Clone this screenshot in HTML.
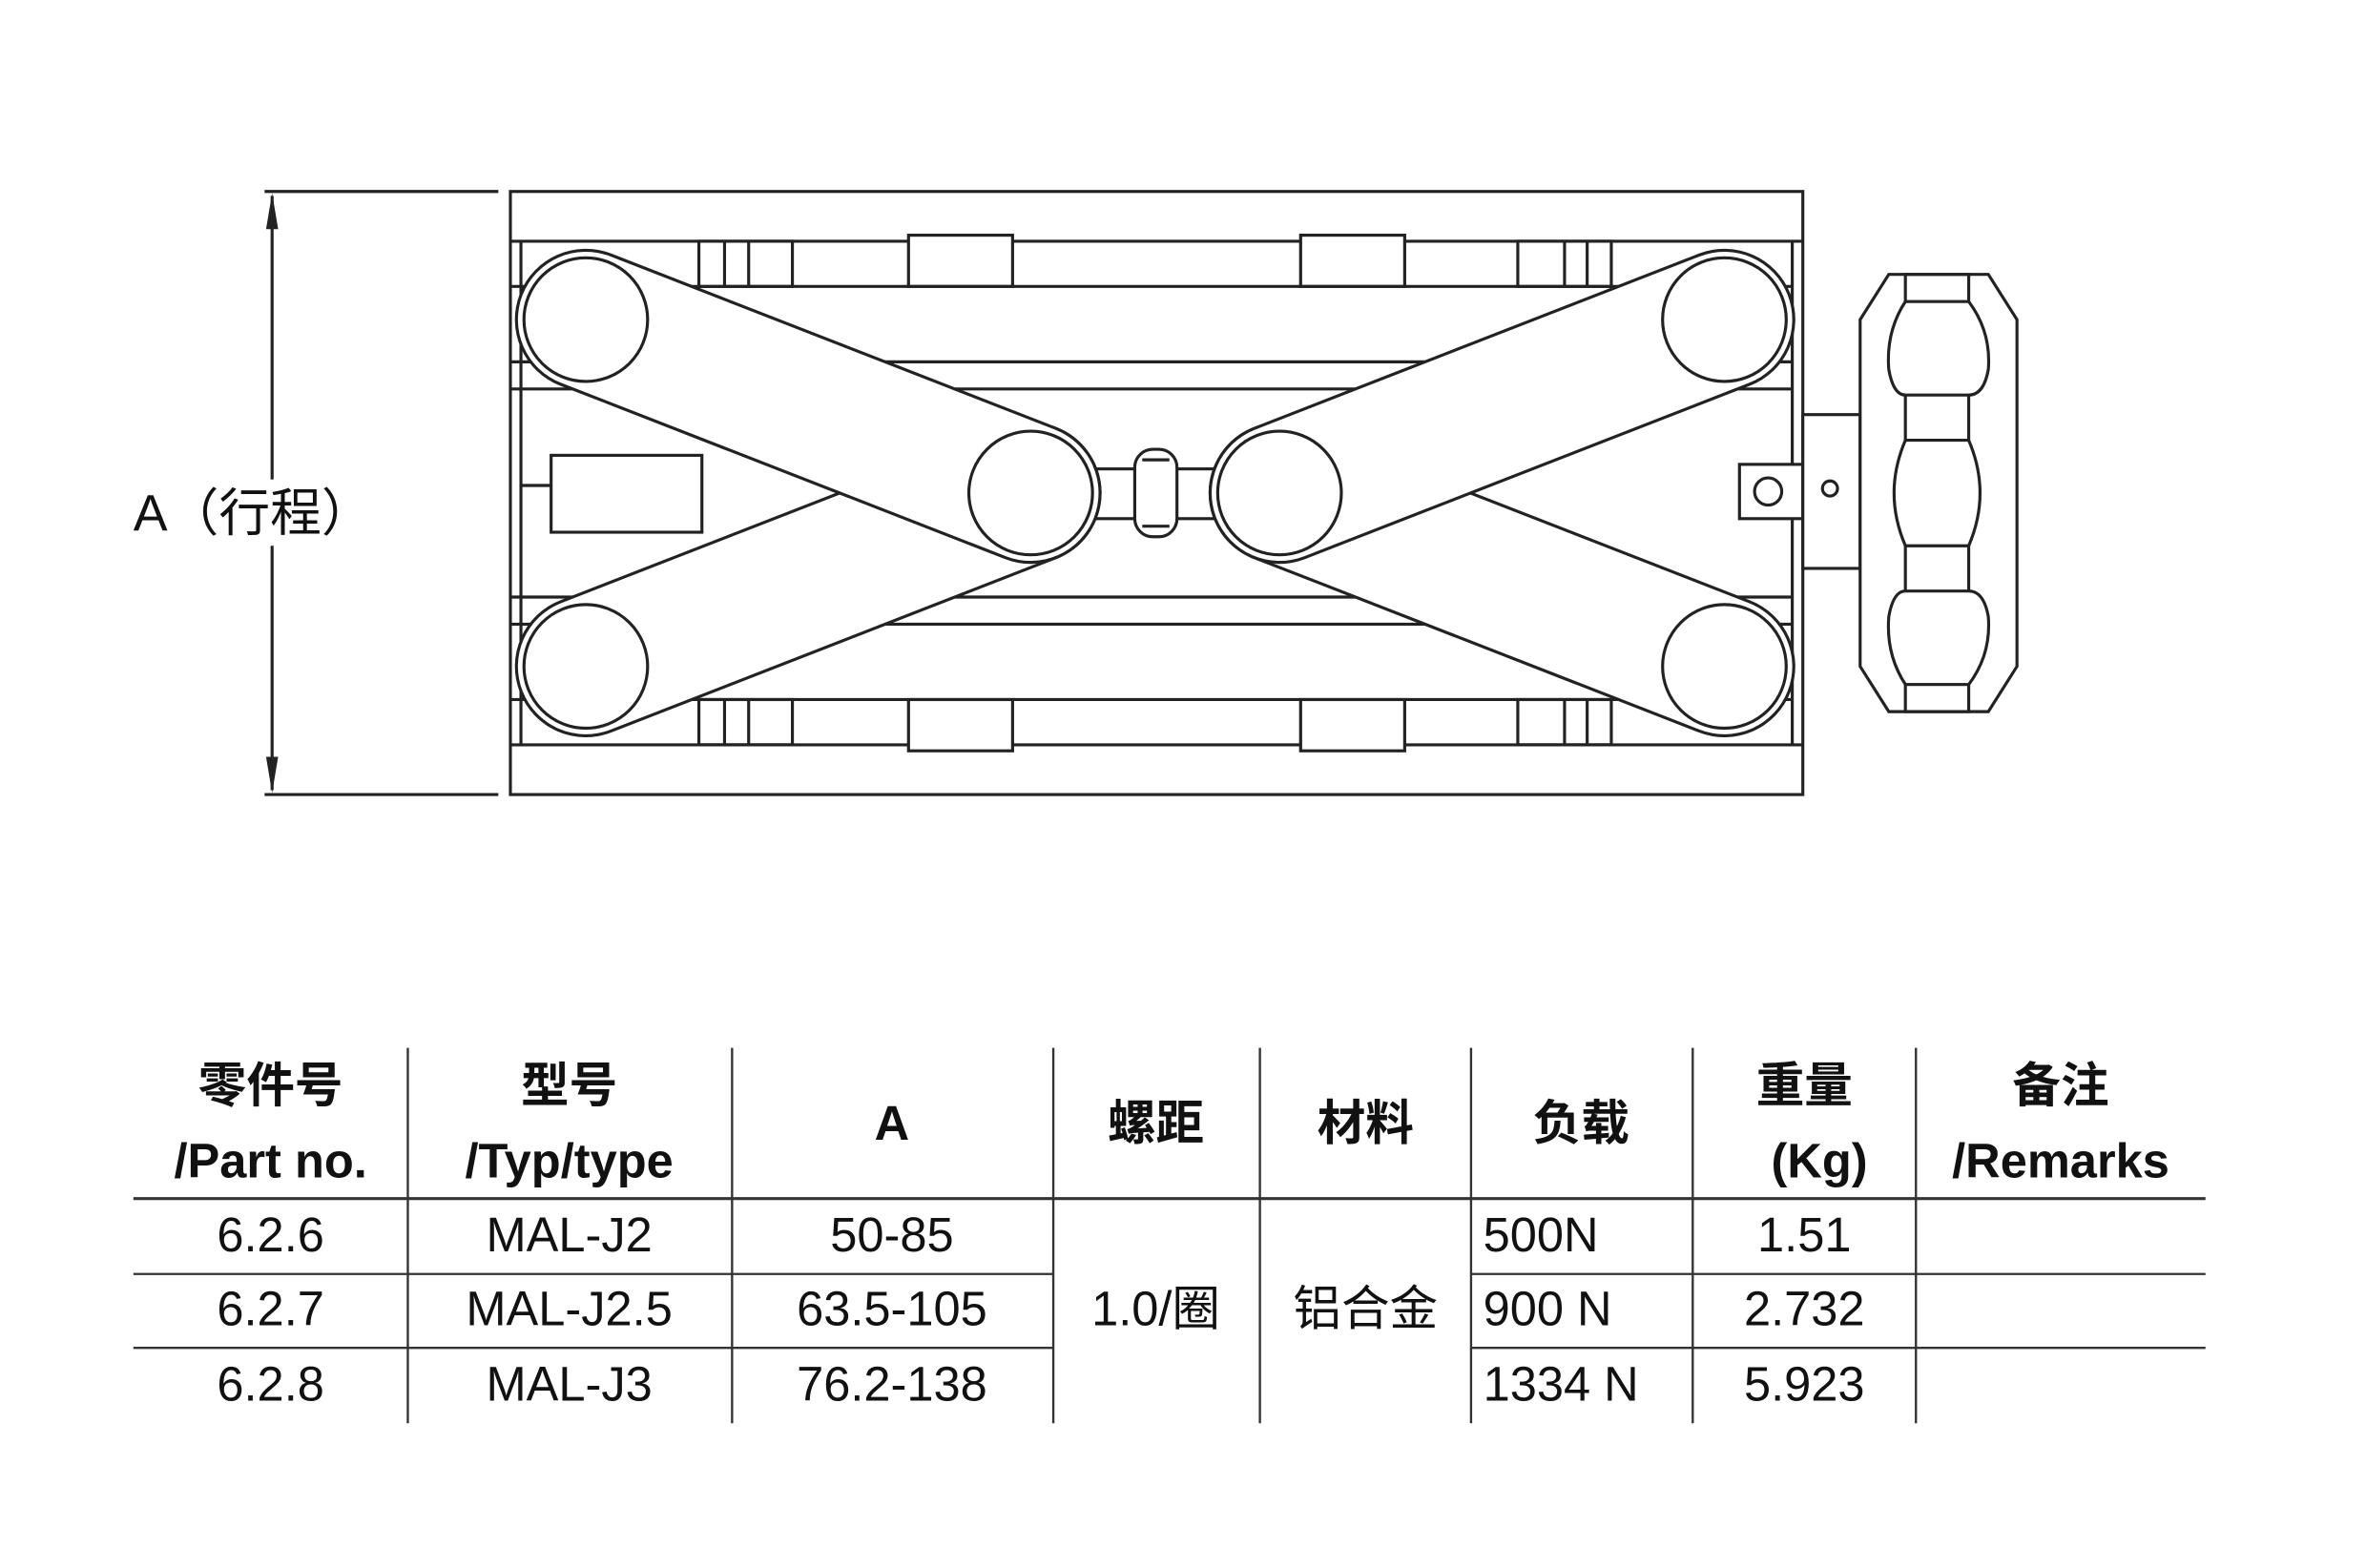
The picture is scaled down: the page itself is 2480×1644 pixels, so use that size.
<!DOCTYPE html>
<html><head><meta charset="utf-8"><style>
html,body{margin:0;padding:0;background:#fff;}
svg{display:block;}
text{font-family:"Liberation Sans","Noto Sans CJK SC",sans-serif;fill:#111;}
</style></head><body>
<svg width="2480" height="1644" viewBox="0 0 1568 1040" xmlns="http://www.w3.org/2000/svg">
<g fill="none" stroke="#222" stroke-width="2">
<!-- frame -->
<rect x="338" y="127" width="857" height="400" fill="#fff"/>
<line x1="338" y1="160" x2="1195" y2="160"/>
<line x1="338" y1="494" x2="1195" y2="494"/>
<!-- top blocks -->
<rect x="602" y="156" width="69" height="34" fill="#fff"/>
<rect x="862" y="156" width="69" height="34" fill="#fff"/>
<rect x="602" y="464" width="69" height="34" fill="#fff"/>
<rect x="862" y="464" width="69" height="34" fill="#fff"/>
<rect x="463" y="160" width="62" height="30"/><line x1="480" y1="160" x2="480" y2="190"/><line x1="496" y1="160" x2="496" y2="190"/>
<rect x="1006" y="160" width="62" height="30"/><line x1="1037" y1="160" x2="1037" y2="190"/><line x1="1052" y1="160" x2="1052" y2="190"/>
<rect x="463" y="464" width="62" height="30"/><line x1="480" y1="464" x2="480" y2="494"/><line x1="496" y1="464" x2="496" y2="494"/>
<rect x="1006" y="464" width="62" height="30"/><line x1="1037" y1="464" x2="1037" y2="494"/><line x1="1052" y1="464" x2="1052" y2="494"/>
<!-- rails -->
<line x1="338" y1="190" x2="1188" y2="190"/>
<line x1="338" y1="464" x2="1188" y2="464"/>
<line x1="345" y1="160" x2="345" y2="494"/>
<line x1="1188" y1="160" x2="1188" y2="494"/>
<line x1="338" y1="240" x2="1188" y2="240"/>
<line x1="338" y1="258" x2="1188" y2="258"/>
<line x1="338" y1="396" x2="1188" y2="396"/>
<line x1="338" y1="414" x2="1188" y2="414"/>
<!-- left rod -->
<rect x="365" y="302" width="100" height="51" fill="#fff"/>
<line x1="345" y1="322" x2="365" y2="322"/>
<!-- center connector -->
<rect x="720" y="311" width="100" height="33" fill="#fff"/>
<rect x="752" y="298" width="28" height="58" rx="12" fill="#fff"/>
<line x1="757" y1="305" x2="775" y2="305"/><line x1="757" y1="349" x2="775" y2="349"/>
<!-- right square + stem -->
<rect x="1153" y="308" width="42" height="36" fill="#fff"/>
<circle cx="1172" cy="326" r="9"/>
<rect x="1195" y="275" width="38" height="102" fill="#fff"/>
<circle cx="1213" cy="324" r="5"/>
<!-- knob -->
<path d="M1252,182 L1318,182 L1337,212 L1337,442 L1318,472 L1252,472 L1233,442 L1233,212 Z" fill="#fff"/>
<rect x="1263" y="182" width="42" height="18"/>
<rect x="1263" y="454" width="42" height="18"/>
<path d="M1263,200 Q1250,220 1252,245 Q1255,262 1263,262 L1305,262 Q1315,262 1318,245 Q1320,220 1305,200"/>
<path d="M1263,454 Q1250,434 1252,409 Q1255,392 1263,392 L1305,392 Q1315,392 1318,409 Q1320,434 1305,454"/>
<line x1="1263" y1="262" x2="1263" y2="292"/><line x1="1305" y1="262" x2="1305" y2="292"/>
<line x1="1263" y1="362" x2="1263" y2="392"/><line x1="1305" y1="362" x2="1305" y2="392"/>
<path d="M1263,292 Q1248,327 1263,362 L1305,362 Q1320,327 1305,292 Z"/>
</g>
<!-- links: outline capsules -->
<g stroke-linecap="round" fill="none">
<line x1="388" y1="442" x2="683" y2="327" stroke="#222" stroke-width="94"/>
<line x1="388" y1="442" x2="683" y2="327" stroke="#fff" stroke-width="90"/>
<line x1="388" y1="212" x2="683" y2="327" stroke="#222" stroke-width="94"/>
<line x1="388" y1="212" x2="683" y2="327" stroke="#fff" stroke-width="90"/>
<line x1="1143" y1="442" x2="848" y2="327" stroke="#222" stroke-width="94"/>
<line x1="1143" y1="442" x2="848" y2="327" stroke="#fff" stroke-width="90"/>
<line x1="1143" y1="212" x2="848" y2="327" stroke="#222" stroke-width="94"/>
<line x1="1143" y1="212" x2="848" y2="327" stroke="#fff" stroke-width="90"/>
</g>
<g fill="none" stroke="#222" stroke-width="2">
<circle cx="388" cy="212" r="41"/><circle cx="388" cy="442" r="41"/>
<circle cx="683" cy="327" r="41"/><circle cx="848" cy="327" r="41"/>
<circle cx="1143" cy="212" r="41"/><circle cx="1143" cy="442" r="41"/>
</g>
<!-- dimension -->
<g stroke="#222" stroke-width="2" fill="none">
<line x1="175" y1="127" x2="330" y2="127"/>
<line x1="175" y1="527" x2="330" y2="527"/>
<line x1="180" y1="130" x2="180" y2="524"/>
</g>
<path d="M180,128 L176,152 L184,152 Z M180,526 L176,502 L184,502 Z" fill="#222"/>
<rect x="86" y="318" width="166" height="44" fill="#fff"/>
<text x="88" y="352" font-size="34">A（行程）</text>
<!-- table -->
<g stroke="#333" stroke-width="1.5">
<line x1="270" y1="695" x2="270" y2="944"/>
<line x1="485" y1="695" x2="485" y2="944"/>
<line x1="698" y1="695" x2="698" y2="944"/>
<line x1="835" y1="695" x2="835" y2="944"/>
<line x1="975" y1="695" x2="975" y2="944"/>
<line x1="1122" y1="695" x2="1122" y2="944"/>
<line x1="1270" y1="695" x2="1270" y2="944"/>
<line x1="88" y1="795" x2="1462" y2="795" stroke-width="2"/>
<line x1="88" y1="845" x2="698" y2="845"/>
<line x1="88" y1="894" x2="698" y2="894"/>
<line x1="975" y1="845" x2="1462" y2="845"/>
<line x1="975" y1="894" x2="1462" y2="894"/>
</g>
<g font-size="32" font-weight="bold" text-anchor="middle">
<text x="179" y="731">零件号</text><text x="179" y="781">/Part no.</text>
<text x="377" y="731">型号</text><text x="377" y="781">/Typ/type</text>
<text x="591" y="756">A</text>
<text x="766" y="756">螺距</text>
<text x="905" y="756">材料</text>
<text x="1048" y="756">负载</text>
<text x="1196" y="731">重量</text><text x="1206" y="781">(Kg)</text>
<text x="1366" y="731">备注</text><text x="1366" y="781">/Remarks</text>
</g>
<g font-size="32" text-anchor="middle">
<text x="179" y="830">6.2.6</text><text x="179" y="879">6.2.7</text><text x="179" y="929">6.2.8</text>
<text x="377" y="830">MAL-J2</text><text x="377" y="879">MAL-J2.5</text><text x="377" y="929">MAL-J3</text>
<text x="591" y="830">50-85</text><text x="591" y="879">63.5-105</text><text x="591" y="929">76.2-138</text>
<text x="766" y="879">1.0/圈</text>
<text x="905" y="879">铝合金</text>
<text x="1196" y="830">1.51</text><text x="1196" y="879">2.732</text><text x="1196" y="929">5.923</text>
</g>
<g font-size="32">
<text x="983" y="830">500N</text><text x="983" y="879">900 N</text><text x="983" y="929">1334 N</text>
</g>
</svg>
</body></html>
